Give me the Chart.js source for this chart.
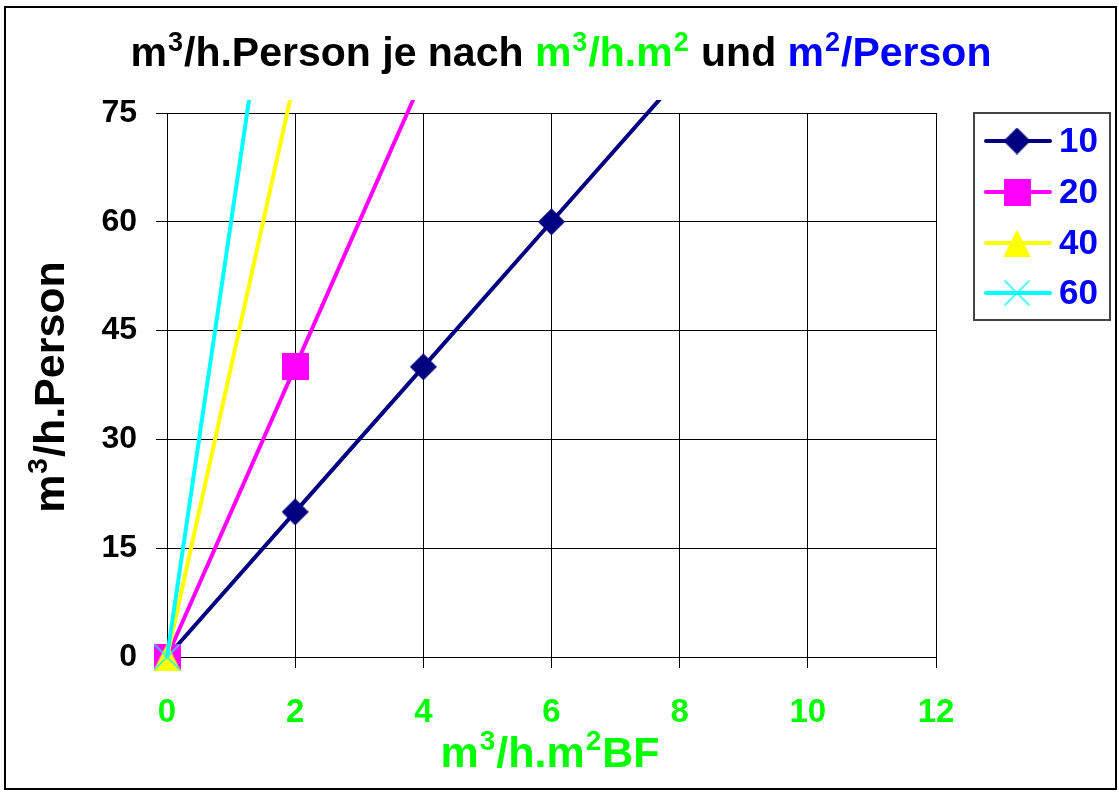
<!DOCTYPE html>
<html><head><meta charset="utf-8">
<script src="https://cdn.jsdelivr.net/npm/chart.js@4/dist/chart.umd.min.js"></script>
<style>html,body{margin:0;padding:0;background:#fff;} canvas{display:block;}</style>
</head><body>
<canvas id="c" width="1119" height="792"></canvas>
<script>
// ---- data ----
const xValues = [0, 2, 4, 6, 8];
const seriesNames = ['10', '20', '40', '60'];
const s10 = [0, 20, 40, 60, 80];
const s20 = [0, 40, 80];
const s40 = [0, 80];
const s60 = [0, 120];
const xTicks = [0, 2, 4, 6, 8, 10, 12];
const yTicks = [0, 15, 30, 45, 60, 75];

const FAM = '"Liberation Sans", Arial, sans-serif';
const NAVY = '#000080', MAG = '#FF00FF', YEL = '#FFFF00', CYAN = '#00FFFF';
const GREEN = '#00FF00', BLUE = '#0000FF';

function marker(type, color) {
  const c = document.createElement('canvas');
  c.width = 27; c.height = 27;
  const g = c.getContext('2d');
  g.fillStyle = color; g.strokeStyle = color;
  g.beginPath();
  if (type === 'diamond') {
    g.moveTo(13.5, 0); g.lineTo(27, 13.5); g.lineTo(13.5, 27); g.lineTo(0, 13.5); g.closePath(); g.fill();
  } else if (type === 'square') {
    g.fillRect(0, 0, 27, 27);
  } else if (type === 'triangle') {
    g.moveTo(13.5, 0); g.lineTo(27, 27); g.lineTo(0, 27); g.closePath(); g.fill();
  } else {
    g.lineWidth = 1.5;
    g.moveTo(1, 1); g.lineTo(26, 26); g.moveTo(26, 1); g.lineTo(1, 26); g.stroke();
  }
  return c;
}
const styles = [
  {color: NAVY, m: marker('diamond', NAVY)},
  {color: MAG, m: marker('square', MAG)},
  {color: YEL, m: marker('triangle', YEL)},
  {color: CYAN, m: marker('x', CYAN)}
];
const allSeries = [s10, s20, s40, s60];

const datasets = allSeries.map((vals, i) => ({
  label: seriesNames[i],
  data: vals.map((v, j) => ({x: xValues[j], y: v})),
  borderColor: styles[i].color,
  backgroundColor: styles[i].color,
  borderWidth: 4,
  pointStyle: styles[i].m,
  pointRadius: 13,
  tension: 0,
  order: 4 - i,
  clip: {left: 40, top: 13, right: 0, bottom: 40}
}));

function drawRich(ctx, parts, cx, baseline, size, supSize, rise) {
  const F = 'bold ' + size + 'px ' + FAM, FS = 'bold ' + supSize + 'px ' + FAM;
  let total = 0;
  parts.forEach(p => { ctx.font = p.sup ? FS : F; p.w = ctx.measureText(p.t).width + (p.sup ? 2 : 0); total += p.w; });
  let x = cx - total / 2;
  ctx.textAlign = 'left'; ctx.textBaseline = 'alphabetic';
  parts.forEach(p => {
    ctx.font = p.sup ? FS : F; ctx.fillStyle = p.c;
    ctx.fillText(p.t, x + (p.sup ? 1 : 0), p.sup ? baseline - rise : baseline);
    x += p.w;
  });
}

const deco = {
  id: 'deco',
  afterDraw(chart) {
    const ctx = chart.ctx;
    ctx.save();
    // outer frame
    ctx.strokeStyle = '#000'; ctx.lineWidth = 2;
    ctx.strokeRect(5, 7, 1111, 782);
    // title
    drawRich(ctx, [
      {t: 'm', c: '#000'}, {t: '3', c: '#000', sup: 1}, {t: '/h.Person je nach ', c: '#000'},
      {t: 'm', c: GREEN}, {t: '3', c: GREEN, sup: 1}, {t: '/h.m', c: GREEN}, {t: '2', c: GREEN, sup: 1},
      {t: ' und ', c: '#000'},
      {t: 'm', c: BLUE}, {t: '2', c: BLUE, sup: 1}, {t: '/Person', c: BLUE}
    ], 561, 66, 41, 27, 15);
    // x axis title
    drawRich(ctx, [
      {t: 'm', c: GREEN}, {t: '3', c: GREEN, sup: 1}, {t: '/h.m', c: GREEN}, {t: '2', c: GREEN, sup: 1}, {t: 'BF', c: GREEN}
    ], 550, 767, 43, 28, 17);
    // y axis title
    ctx.save();
    ctx.translate(64, 387);
    ctx.rotate(-Math.PI / 2);
    drawRich(ctx, [
      {t: 'm', c: '#000'}, {t: '3', c: '#000', sup: 1}, {t: '/h.Person', c: '#000'}
    ], 0, 0, 43, 28, 17);
    ctx.restore();
    // legend
    ctx.fillStyle = '#fff';
    ctx.fillRect(974, 113, 136, 207);
    ctx.strokeStyle = '#444'; ctx.lineWidth = 2;
    ctx.strokeRect(974, 113, 136, 207);
    const ys = [141, 192, 243, 293];
    styles.forEach((s, i) => {
      const y = ys[i];
      ctx.strokeStyle = s.color; ctx.lineWidth = 4; ctx.lineCap = 'round';
      ctx.beginPath(); ctx.moveTo(986, y); ctx.lineTo(1050, y); ctx.stroke();
      ctx.drawImage(s.m, 1017 - 13.5, y - 13.5);
      ctx.fillStyle = BLUE; ctx.font = 'bold 35px ' + FAM;
      ctx.textAlign = 'left'; ctx.textBaseline = 'middle';
      ctx.fillText(seriesNames[i], 1059, y + 1);
    });
    ctx.restore();
  }
};

new Chart(document.getElementById('c'), {
  type: 'line',
  data: {datasets},
  options: {
    responsive: false,
    animation: false,
    devicePixelRatio: 1,
    layout: {padding: {left: 0, top: 113, right: 183, bottom: 0}},
    plugins: {legend: {display: false}, title: {display: false}, tooltip: {enabled: false}},
    scales: {
      x: {
        type: 'linear', min: 0, max: 12,
        afterBuildTicks: s => { s.ticks = xTicks.map(v => ({value: v})); },
        afterFit: s => { s.height = 135; },
        ticks: {color: GREEN, font: {family: FAM, size: 33, weight: 'bold'}, padding: 25, maxRotation: 0, autoSkip: false},
        grid: {color: '#000', lineWidth: 1, tickLength: 11},
        border: {color: '#000', width: 1}
      },
      y: {
        type: 'linear', min: 0, max: 75,
        afterBuildTicks: s => { s.ticks = yTicks.map(v => ({value: v})); },
        afterFit: s => { s.width = 167; },
        ticks: {color: '#000', font: {family: FAM, size: 32, weight: 'bold'}, padding: 19, autoSkip: false},
        grid: {color: '#000', lineWidth: 1, tickLength: 11},
        border: {color: '#000', width: 1}
      }
    }
  },
  plugins: [deco]
});
</script>
</body></html>
